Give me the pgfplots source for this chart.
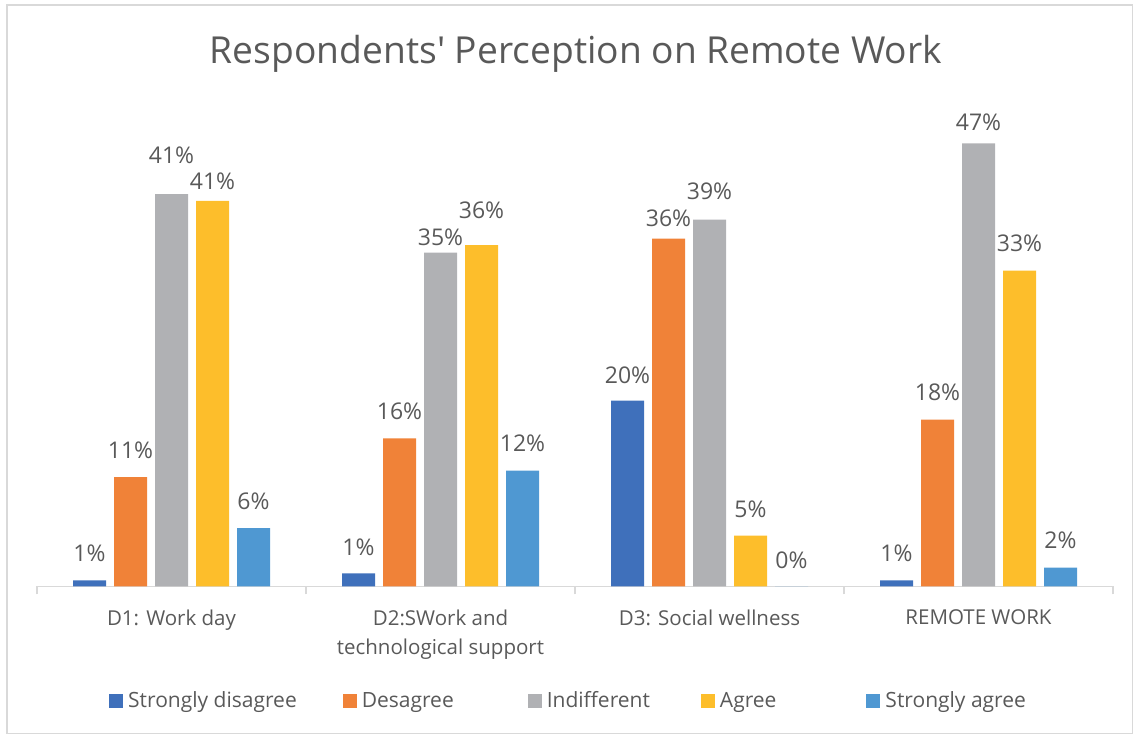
\documentclass[border=0pt]{standalone}
\usepackage{pgfplots}
\pgfplotsset{compat=1.18}
\usepackage{fontspec}
\setmainfont{Open Sans}
\definecolor{txt}{HTML}{595959}
\definecolor{cSD}{HTML}{3F70BB}
\definecolor{cD}{HTML}{F08238}
\definecolor{cI}{HTML}{B0B1B4}
\definecolor{cA}{HTML}{FDBE2B}
\definecolor{cSA}{HTML}{4F98D2}
\definecolor{grid}{HTML}{D9D9D9}
\begin{document}
\begin{tikzpicture}
\useasboundingbox (0,0) rectangle (1133pt,734pt);
\draw[grid, line width=1.2pt] (7pt,0.6pt) rectangle (1132.4pt,729pt);
\node[text=txt, font=\fontsize{37.2}{44}\selectfont] at (576pt,680pt) {Respondents\textquotesingle{} Perception on Remote Work};
\begin{axis}[
  at={(37pt,147.5pt)}, anchor=south west,
  scale only axis, width=1076pt, height=471.5pt,
  ymin=0, ymax=50, xmin=-0.5, xmax=3.5,
  axis x line*=bottom, axis y line=none,
  x axis line style={grid, line width=1.5pt, -},
  ybar=8pt, bar width=33pt,
  xtick={-0.5,0.5,1.5,2.5,3.5}, xticklabels={},
  major tick length=8pt, tick align=outside,
  x tick style={grid, line width=1.5pt},
  extra x ticks={0,1,2,3},
  extra x tick labels={D1: Work day, {D2:SWork and\\technological support}, D3: Social wellness, REMOTE WORK},
  extra x tick style={major tick length=0pt, tick style={draw=none}},
  xticklabel style={text=txt, font=\fontsize{20.5}{29}\selectfont, align=center, anchor=north, yshift=-20pt},
  point meta=explicit,
  visualization depends on={\thisrow{d} \as \dd},
  nodes near coords={\pgfmathprintnumber{\pgfplotspointmeta}\%},
  every node near coord/.append style={text=txt, font=\fontsize{23}{27}\selectfont, inner sep=0pt, anchor=center, yshift=\dd pt},
  /pgf/number format/assume math mode=true,
  clip=false,
  legend columns=5,
  legend style={draw=none, fill=none, at={(0.0669,-0.242)}, anchor=west, inner sep=0pt,
    font=\fontsize{21}{26}\selectfont, text=txt,
    /tikz/every odd column/.append style={column sep=0pt},
    /tikz/column 2/.style={column sep=41pt},
    /tikz/column 4/.style={column sep=69pt},
    /tikz/column 6/.style={column sep=46pt},
    /tikz/column 8/.style={column sep=85pt},
    /tikz/every node/.append style={inner xsep=5pt}},
  legend image code/.code={\fill[#1] (0pt,-7pt) rectangle (14pt,7pt);},
]
\addplot[fill=cSD, draw=none] table[x=x, y=y, meta=l] {
x y l d
0 0.64 1 27
1 1.4 1 26
2 19.7 20 25
3 0.64 1 27
};
\addplot[fill=cD, draw=none] table[x=x, y=y, meta=l] {
x y l d
0 11.6 11 27
1 15.7 16 27
2 36.9 36 20
3 17.7 18 27
};
\addplot[fill=cI, draw=none] table[x=x, y=y, meta=l] {
x y l d
0 41.6 41 39
1 35.4 35 15
2 38.9 39 28
3 47.0 47 21
};
\addplot[fill=cA, draw=none] table[x=x, y=y, meta=l] {
x y l d
0 40.9 41 20
1 36.2 36 35
2 5.4 5 26
3 33.5 33 27
};
\addplot[fill=cSA, draw=none] table[x=x, y=y, meta=l] {
x y l d
0 6.2 6 27
1 12.3 12 27
2 0 0 26
3 2.0 2 27
};
\legend{Strongly disagree, Desagree, Indifferent, Agree, Strongly agree}
\end{axis}
\end{tikzpicture}
\end{document}
